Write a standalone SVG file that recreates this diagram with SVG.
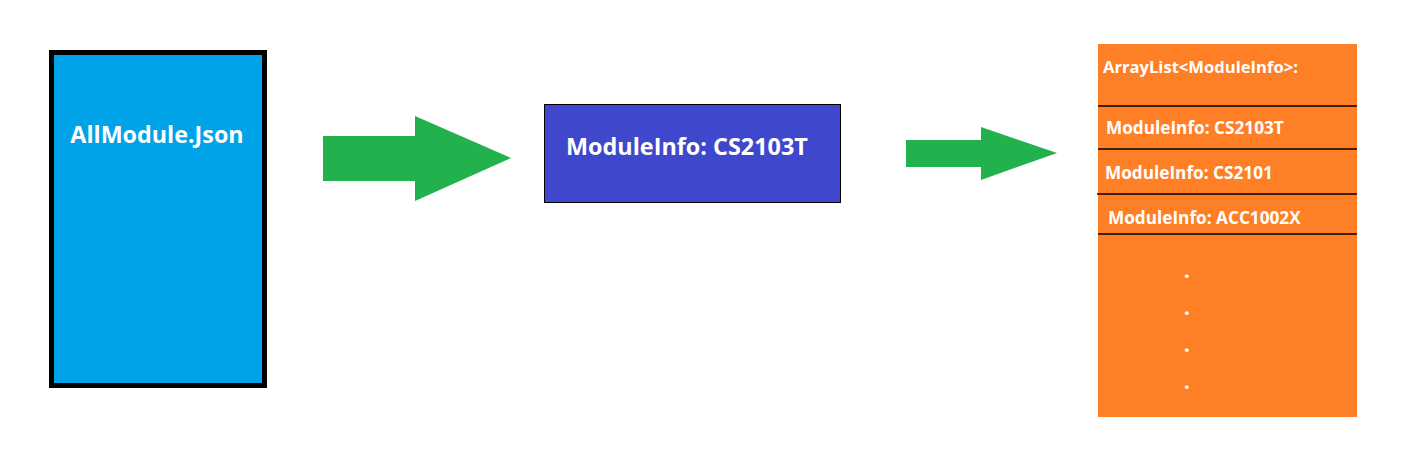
<svg xmlns="http://www.w3.org/2000/svg" width="1411" height="465" viewBox="0 0 1411 465">
<style>
.t{font-family:"Open Sans","Liberation Sans",sans-serif;font-weight:bold;fill:#ffffff}
.arrow{fill:#22b14c}
.sep{stroke:#000;stroke-width:1.3}
</style>
<rect width="1411" height="465" fill="#ffffff"/>
<g id="allmodule">
<rect x="51.5" y="52.5" width="213" height="333" fill="#00a2e8" stroke="#000" stroke-width="5"/>
<text class="t" x="157" y="143" font-size="23.3" text-anchor="middle">AllModule.Json</text>
</g>
<g id="moduleinfo">
<rect x="544.5" y="104.5" width="296" height="98" fill="#3f48cc" stroke="#000" stroke-width="1"/>
<text class="t" x="566" y="155" font-size="23.4">ModuleInfo: CS2103T</text>
</g>
<g id="arraylist">
<rect x="1098" y="44" width="259" height="373" fill="#ff7f27"/>
<line class="sep" x1="1098" y1="106" x2="1357" y2="106"/>
<line class="sep" x1="1098" y1="149" x2="1357" y2="149"/>
<line class="sep" x1="1097" y1="194" x2="1357" y2="194"/>
<line class="sep" x1="1098" y1="234" x2="1357" y2="234"/>
<text class="t" x="1103" y="73" font-size="16.6">ArrayList&lt;ModuleInfo&gt;:</text>
<text class="t" x="1106" y="134" font-size="17.2">ModuleInfo: CS2103T</text>
<text class="t" x="1105" y="179" font-size="17.2">ModuleInfo: CS2101</text>
<text class="t" x="1108" y="224" font-size="17.2">ModuleInfo: ACC1002X</text>
<text class="t" x="1187" y="278" font-size="22" text-anchor="middle">.</text>
<text class="t" x="1187" y="315" font-size="22" text-anchor="middle">.</text>
<text class="t" x="1187" y="352" font-size="22" text-anchor="middle">.</text>
<text class="t" x="1187" y="389" font-size="22" text-anchor="middle">.</text>
</g>
<g id="connectors">
<polygon class="arrow" points="323,136 415,136 415,116 511,158 415,201 415,181 323,181"/>
<polygon class="arrow" points="906,140 981,140 981,127 1057,153 981,180 981,167 906,167"/>
</g>
</svg>
